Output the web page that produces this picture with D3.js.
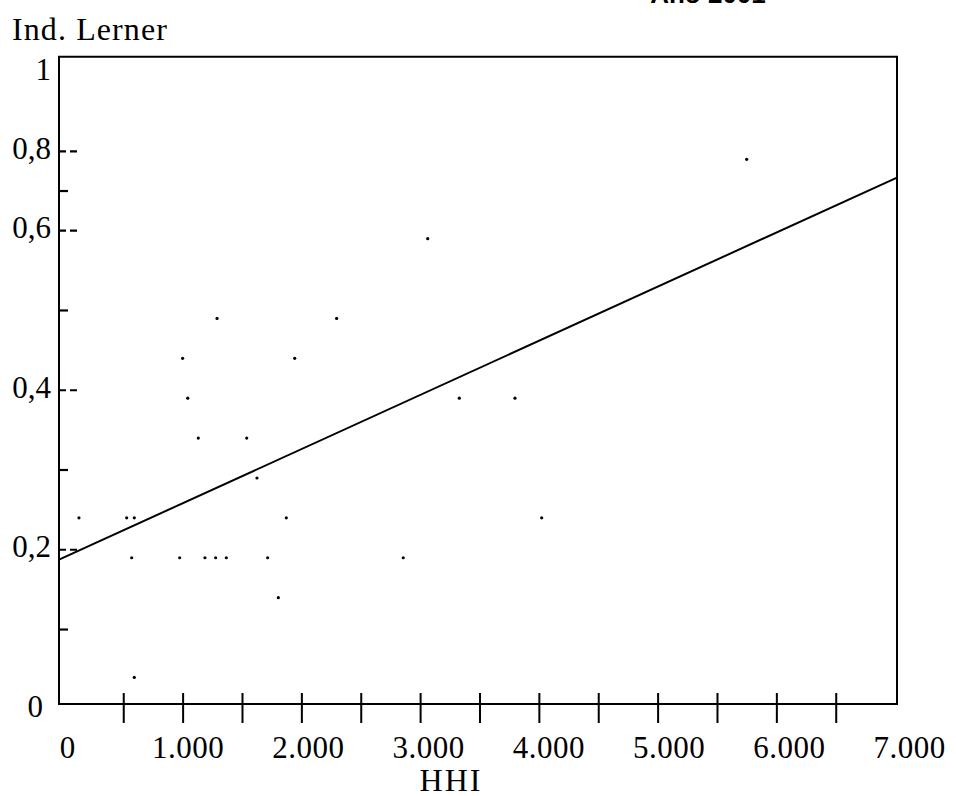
<!DOCTYPE html>
<html>
<head>
<meta charset="utf-8">
<script src="https://cdn.jsdelivr.net/npm/d3@7"></script>
<style>
  html, body { margin: 0; padding: 0; background: #fff; }
  svg { display: block; }
  text { font-family: "Liberation Serif", "Times New Roman", serif; fill: #000; }
</style>
</head>
<body>
<svg id="chart" width="956" height="796"></svg>
<script>
// ---- Data ----
const hhi    = [127, 529, 593, 571, 593, 975, 1000, 1043, 1132, 1188, 1278, 1368, 1290, 1540, 1626, 1716, 1806, 1873, 1944, 2297, 2858, 3064, 3330, 3799, 4024, 5750];
const lerner = [0.24, 0.24, 0.24, 0.19, 0.04, 0.19, 0.44, 0.39, 0.34, 0.19, 0.19, 0.19, 0.49, 0.34, 0.29, 0.19, 0.14, 0.24, 0.44, 0.49, 0.19, 0.59, 0.39, 0.39, 0.24, 0.78];
// fitted line: values at the left and right edge of the plot
const fitX = [-41, 7016];
const fitY = [0.1876, 0.734];
// axis ticks and labels
const xTickValues  = [500, 1000, 1500, 2000, 2500, 3000, 3500, 4000, 4500, 5000, 5500, 6000, 6500];
const xLabelValues = [0, 1000, 2000, 3000, 4000, 5000, 6000, 7000];
const yMajorTicks  = [0.2, 0.4, 0.6, 0.8];
const yMinorTicks  = [0.1, 0.3, 0.5, 0.7];
const yLabelValues = [0, 0.2, 0.4, 0.6, 0.8, 1];
const chartTitle = "Año 2001";
const xTitle = "HHI";
const yTitle = "Ind. Lerner";

// ---- Layout ----
const svg = d3.select("#chart");
const mLeft = 59, mRight = 897, mTop = 56.7, mBottom = 704;

const locale = d3.formatLocale({decimal: ",", thousands: ".", grouping: [3], currency: ["", ""]});
const fmtX = locale.format(",d");
const fmtY = locale.format("~g");

const x = d3.scaleLinear().domain([fitX[0], fitX[1]]).range([mLeft, mRight]);
// the reference's vertical axis is compressed above 0,6
const y = d3.scaleLinear().domain([0, 0.6, 1]).range([709.3, 230.7, 72]);

// Frame
svg.append("path")
  .attr("d", `M${mLeft},${mBottom}V${mTop}H${mRight}V${mBottom}H${mLeft}Z`)
  .attr("fill", "none").attr("stroke", "#000").attr("stroke-width", 2);

// X axis ticks via d3 axis
const xAxis = d3.axisBottom(x).tickValues(xTickValues).tickSizeInner(19).tickSizeOuter(0).tickFormat("");
const gx = svg.append("g").attr("transform", `translate(0,${mBottom})`).call(xAxis);
gx.select(".domain").remove();
gx.selectAll(".tick line").attr("y1", -11).attr("stroke", "#000").attr("stroke-width", 2);

// X labels
svg.append("g").selectAll("text").data(xLabelValues).join("text")
  .attr("x", d => x(d) + 4 + 1.5 * d / 1000)
  .attr("y", 758)
  .attr("text-anchor", "middle")
  .attr("font-size", 31)
  .attr("letter-spacing", 0.5)
  .text(d => fmtX(d));

// Y ticks: major dashed, minor short solid
svg.append("g").selectAll("line").data(yMajorTicks).join("line")
  .attr("x1", mLeft).attr("x2", mLeft + 20)
  .attr("y1", d => y(d)).attr("y2", d => y(d))
  .attr("stroke", "#000").attr("stroke-width", 2.2)
  .attr("stroke-dasharray", "7,4");
svg.append("g").selectAll("line").data(yMinorTicks).join("line")
  .attr("x1", mLeft).attr("x2", mLeft + 9)
  .attr("y1", d => y(d)).attr("y2", d => y(d))
  .attr("stroke", "#000").attr("stroke-width", 2.2);

// Y labels
svg.append("g").selectAll("text").data(yLabelValues).join("text")
  .attr("x", d => d === 0 ? 43 : 51)
  .attr("y", d => y(d) + 7.5)
  .attr("text-anchor", "end")
  .attr("font-size", 31)
  .text(d => fmtY(d));

// Fitted line
svg.append("line")
  .attr("x1", x(fitX[0])).attr("y1", y(fitY[0]))
  .attr("x2", x(fitX[1])).attr("y2", y(fitY[1]))
  .attr("stroke", "#000").attr("stroke-width", 2);

// Points
svg.append("g").selectAll("circle").data(hhi).join("circle")
  .attr("cx", (d, i) => x(d))
  .attr("cy", (d, i) => y(lerner[i]))
  .attr("r", 1.6)
  .attr("fill", "#000");

// Titles
svg.append("text").attr("x", 12).attr("y", 40).attr("font-size", 32).attr("letter-spacing", 1.1).text(yTitle);
svg.append("text").attr("x", 451).attr("y", 791).attr("text-anchor", "middle").attr("font-size", 32).attr("letter-spacing", 2).text(xTitle);
svg.append("text").attr("x", 708).attr("y", 3).attr("text-anchor", "middle")
  .attr("font-size", 26).attr("font-weight", "bold")
  .style("font-family", "'Liberation Sans', Arial, sans-serif")
  .text(chartTitle);
</script>
</body>
</html>
